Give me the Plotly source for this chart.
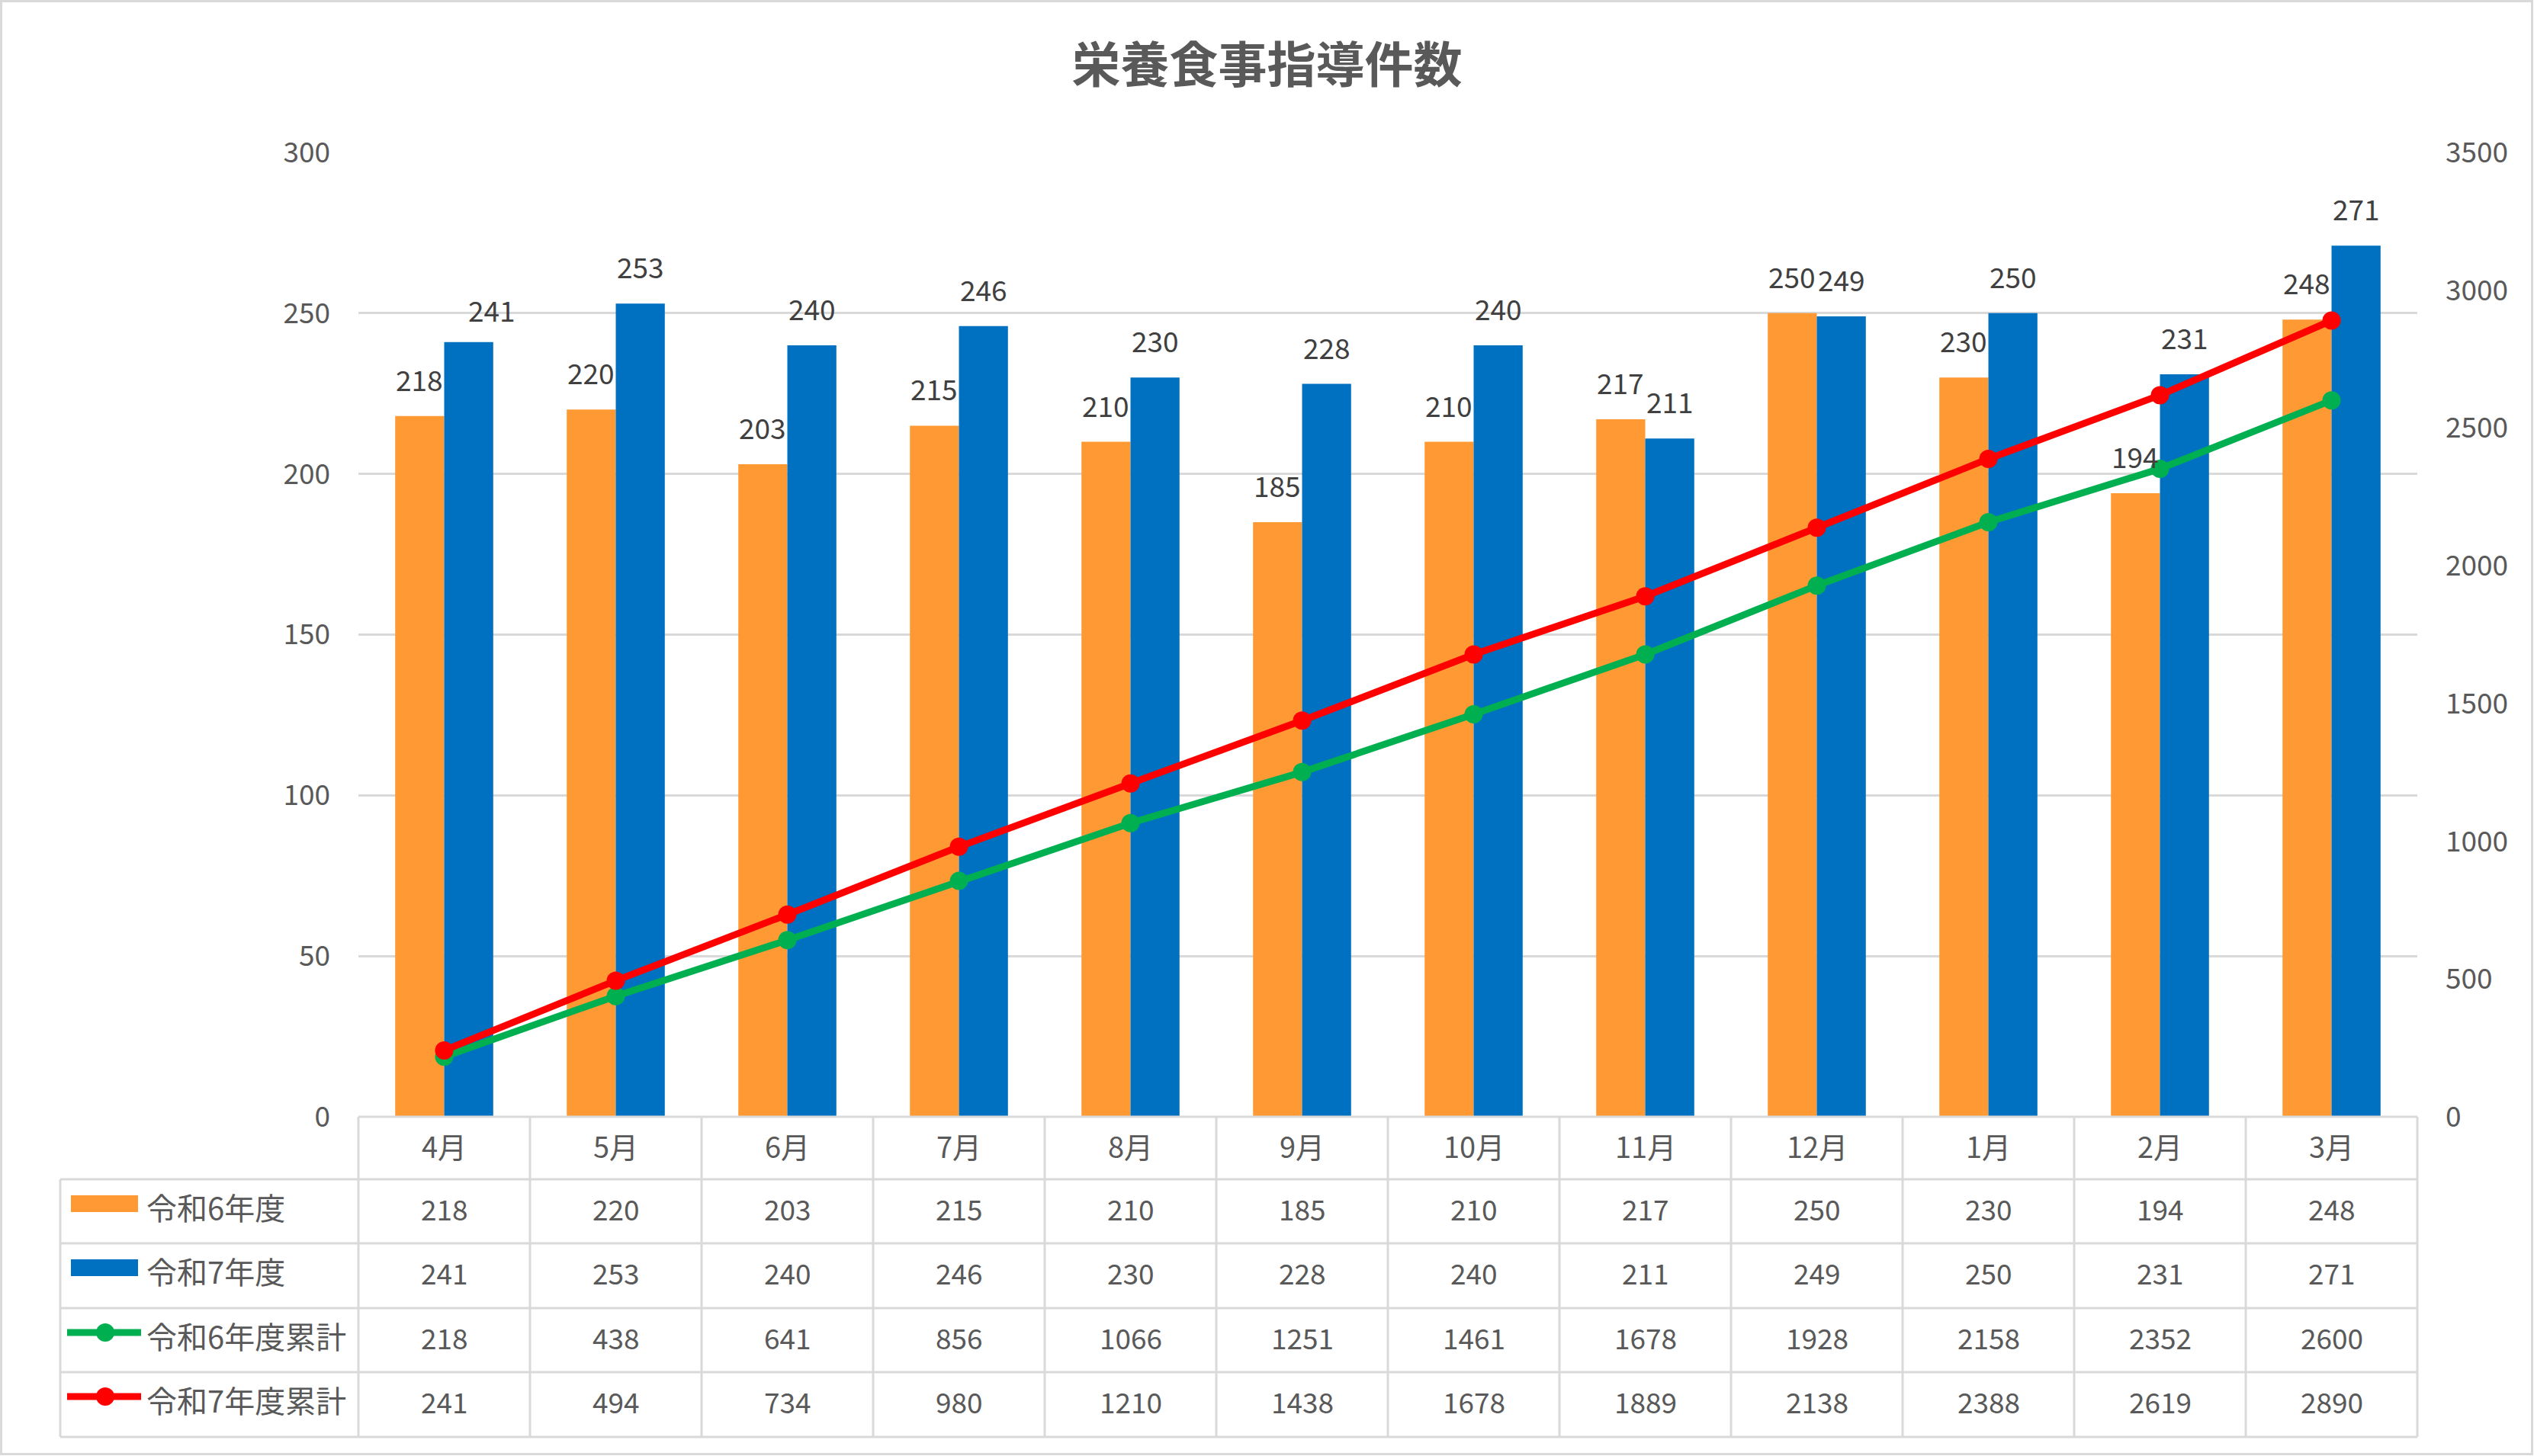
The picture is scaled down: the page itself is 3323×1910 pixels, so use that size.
import plotly.graph_objects as go

# ---------------- data ----------------
months = ["4月", "5月", "6月", "7月", "8月", "9月", "10月", "11月", "12月", "1月", "2月", "3月"]
r6 = [218, 220, 203, 215, 210, 185, 210, 217, 250, 230, 194, 248]
r7 = [241, 253, 240, 246, 230, 228, 240, 211, 249, 250, 231, 271]
r6_cum = [218, 438, 641, 856, 1066, 1251, 1461, 1678, 1928, 2158, 2352, 2600]
r7_cum = [241, 494, 734, 980, 1210, 1438, 1678, 1889, 2138, 2388, 2619, 2890]
series_names = ["令和6年度", "令和7年度", "令和6年度累計", "令和7年度累計"]
left_ticks = [0, 50, 100, 150, 200, 250, 300]
right_ticks = [0, 500, 1000, 1500, 2000, 2500, 3000, 3500]
title_text = "栄養食事指導件数"

# ---------------- style ----------------
W, H = 3323, 1910
PL, PR, PT, PB = 470, 3170, 200, 1465  # plot area in pixels
C_OR = "#FF9933"
C_BL = "#0070C0"
C_GR = "#00B050"
C_RD = "#FF0000"
GRID = "#D9D9D9"
TXT = "#595959"
LBL = "#404040"
FONT = "Noto Sans CJK JP"
BARGAP = 1.5 / 3.5
FS_TICK = 37
FS_NUM = 37
FS_LAB = 38
FS_ROW = 40
FS_BAR = 37


def px(X):
    return (X - PL) / (PR - PL)


def py(Y):
    return (PB - Y) / (PB - PT)


fig = go.Figure()
fig.add_trace(go.Bar(x=months, y=r6, name=series_names[0], marker=dict(color=C_OR, line=dict(width=0))))
fig.add_trace(go.Bar(x=months, y=r7, name=series_names[1], marker=dict(color=C_BL, line=dict(width=0))))
fig.add_trace(go.Scatter(x=months, y=r6_cum, name=series_names[2], yaxis="y2", mode="lines+markers",
                         line=dict(color=C_GR, width=9), marker=dict(color=C_GR, size=24)))
fig.add_trace(go.Scatter(x=months, y=r7_cum, name=series_names[3], yaxis="y2", mode="lines+markers",
                         line=dict(color=C_RD, width=9), marker=dict(color=C_RD, size=24)))

annotations = []
half = (1 - BARGAP) / 4
# bar data labels
for i, (a, b) in enumerate(zip(r6, r7)):
    annotations.append(dict(x=i - half, y=a, xref="x", yref="y", text=str(a), showarrow=False,
                            yanchor="bottom", yshift=20, font=dict(family=FONT, size=FS_BAR, color=LBL)))
    xs, ys = (30, 14) if i == 0 else (0, 20)
    annotations.append(dict(x=i + half, y=b, xref="x", yref="y", text=str(b), showarrow=False,
                            yanchor="bottom", yshift=ys, xshift=xs, font=dict(family=FONT, size=FS_BAR, color=LBL)))

# data table
row_centers = [1589, 1673, 1758, 1842]
rows = [r6, r7, r6_cum, r7_cum]
for m in months:
    annotations.append(dict(x=m, y=py(1502), xref="x", yref="paper", text=m, showarrow=False,
                            yanchor="middle", font=dict(family=FONT, size=FS_LAB, color=TXT)))
for rc, vals, nm in zip(row_centers, rows, series_names):
    for m, v in zip(months, vals):
        annotations.append(dict(x=m, y=py(rc - 4), xref="x", yref="paper", text=str(v), showarrow=False,
                                yanchor="middle", font=dict(family=FONT, size=FS_NUM, color=TXT)))
    annotations.append(dict(x=px(190), y=py(rc - 6), xref="paper", yref="paper", text=nm, showarrow=False,
                            xanchor="left", yanchor="middle", font=dict(family=FONT, size=FS_ROW, color=TXT)))

shapes = []
line_style = dict(color=GRID, width=3)
ncol = len(months)
for k in range(ncol + 1):
    shapes.append(dict(type="line", xref="paper", yref="paper", x0=k / ncol, x1=k / ncol,
                       y0=py(1465), y1=py(1885), line=line_style))
shapes.append(dict(type="line", xref="paper", yref="paper", x0=px(79), x1=px(79),
                   y0=py(1547), y1=py(1885), line=line_style))
shapes.append(dict(type="line", xref="paper", yref="paper", x0=0, x1=1,
                   y0=py(1465), y1=py(1465), line=line_style))
for Y in [1547, 1631, 1716, 1800, 1885]:
    shapes.append(dict(type="line", xref="paper", yref="paper", x0=px(79), x1=1,
                       y0=py(Y), y1=py(Y), line=line_style))
# legend keys in the table
for rc, col in [(1589, C_OR), (1673, C_BL)]:
    shapes.append(dict(type="rect", xref="paper", yref="paper", x0=px(93), x1=px(181),
                       y0=py(rc - 21), y1=py(rc + 1), fillcolor=col, line=dict(width=0)))
for rc, col in [(1758, C_GR), (1842, C_RD)]:
    yc = rc - 10
    shapes.append(dict(type="line", xref="paper", yref="paper", x0=px(88), x1=px(185),
                       y0=py(yc), y1=py(yc), line=dict(color=col, width=9)))
    shapes.append(dict(type="circle", xref="paper", yref="paper", x0=px(126), x1=px(150),
                       y0=py(yc + 12), y1=py(yc - 12), fillcolor=col, line=dict(width=0)))
# outer border
shapes.append(dict(type="rect", xref="paper", yref="paper", x0=px(1.5), x1=px(W - 2.5),
                   y0=py(H - 2.5), y1=py(1.5), line=dict(color=GRID, width=3), fillcolor="rgba(0,0,0,0)"))

fig.update_layout(
    width=W, height=H,
    margin=dict(l=PL, r=W - PR, t=PT, b=H - PB, pad=0),
    paper_bgcolor="white", plot_bgcolor="white",
    barmode="group", bargap=BARGAP, bargroupgap=0,
    showlegend=False, hovermode=False,
    title=dict(text="<b>" + title_text + "</b>", x=0.5, xref="container", xanchor="center",
               y=1 - 86 / H, yref="container", yanchor="middle",
               font=dict(family=FONT, size=64, color=TXT)),
    font=dict(family=FONT, size=FS_TICK, color=TXT),
    xaxis=dict(type="category", range=[-0.5, ncol - 0.5], showticklabels=False, showgrid=False,
               zeroline=False, showline=False, ticks=""),
    yaxis=dict(range=[0, 300], tickvals=left_ticks, showgrid=True, gridcolor=GRID, gridwidth=3,
               zeroline=False, showline=False, ticks="", ticklabelstandoff=36,
               tickfont=dict(family=FONT, size=FS_TICK, color=TXT)),
    yaxis2=dict(range=[0, 3500], tickvals=right_ticks, overlaying="y", side="right", showgrid=False,
                zeroline=False, showline=False, ticks="", ticklabelstandoff=36,
                tickfont=dict(family=FONT, size=FS_TICK, color=TXT)),
    annotations=annotations,
    shapes=shapes,
)

fig.write_html("out.html", config={"displayModeBar": False},
               post_script="document.body.style.margin='0';")
